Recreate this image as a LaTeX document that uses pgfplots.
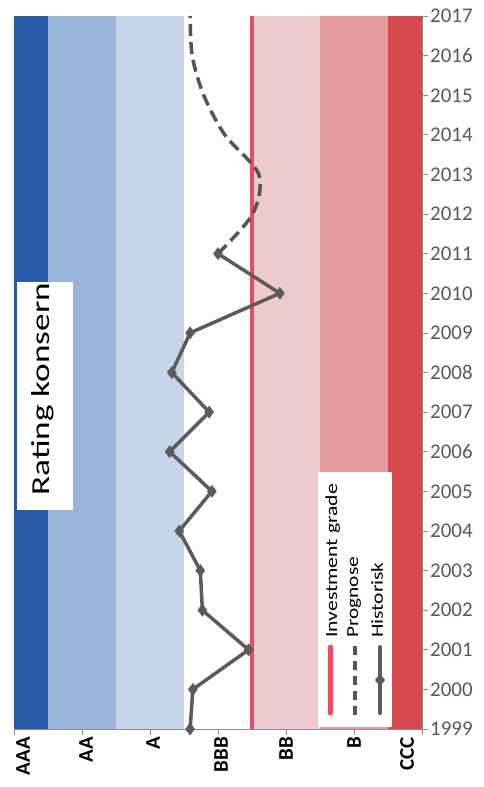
\documentclass[border=0pt]{standalone}
\usepackage{fontspec}
\setmainfont{Carlito}
\usepackage{graphicx}
\usepackage{pgfplots}
\usepackage{pgfplotstable}
\pgfplotsset{compat=1.18}

% rating bands (AAA ... CCC) and series colours
\definecolor{bandAAA}{HTML}{2A5BA6}
\definecolor{bandAA}{HTML}{9BB5DA}
\definecolor{bandA}{HTML}{C6D6EA}
\definecolor{bandBB}{HTML}{EDCBCC}
\definecolor{bandB}{HTML}{E49C9E}
\definecolor{bandCCC}{HTML}{D6494C}
\definecolor{invgrade}{HTML}{EE4A5F}
\definecolor{histline}{HTML}{5C5A5B}
\definecolor{progline}{HTML}{555555}
\definecolor{axisgray}{HTML}{8C8C8C}
\definecolor{labelgray}{HTML}{595959}

% rating scale: AAA = 0, AA = 1, A = 2, BBB = 3, BB = 4, B = 5, CCC = 6
\pgfplotstableread{
year rating
1999 2.59
2000 2.63
2001 3.45
2002 2.77
2003 2.74
2004 2.43
2005 2.91
2006 2.29
2007 2.87
2008 2.32
2009 2.59
2010 3.91
2011 3.00
}\historisk

\pgfplotstableread{
year rating
2011 3.00
2012 3.51
2013 3.60
2014 3.10
2015 2.79
2016 2.62
2017 2.59
}\prognose

\begin{document}
\begin{tikzpicture}
\begin{axis}[
  scale only axis,
  width=408bp, height=713bp,
  xmin=0, xmax=6, ymin=1999, ymax=2017,
  axis on top,
  axis x line*=bottom, axis y line*=right,
  axis line style={axisgray, line width=0.8bp},
  tick align=outside,
  major tick length=6bp,
  every tick/.style={axisgray, line width=0.8bp},
  xtick={0,1,2,3,4,5,6},
  xticklabels={{\raisebox{-9bp}[\height][\depth]{AAA}},{\raisebox{-4bp}[\height][\depth]{AA}},{\raisebox{-3bp}[\height][\depth]{A}},{\raisebox{-3bp}[\height][\depth]{BBB}},BB,B,{\raisebox{15bp}[\height][\depth]{CCC}}},
  x tick label style={rotate=90, anchor=east, inner sep=2bp,
    font=\fontsize{21}{21}\selectfont\bfseries},
  ytick={1999,...,2017},
  y tick label style={font=\fontsize{21}{21}\selectfont, text=labelgray,
    /pgf/number format/1000 sep={}, inner sep=2bp},
  /pgf/number format/assume math mode=true,
]
% rating bands
\addplot[fill=bandAAA, draw=none] coordinates {(0,1999) (0.5,1999) (0.5,2017) (0,2017)} -- cycle;
\addplot[fill=bandAA, draw=none] coordinates {(0.5,1999) (1.5,1999) (1.5,2017) (0.5,2017)} -- cycle;
\addplot[fill=bandA, draw=none] coordinates {(1.5,1999) (2.5,1999) (2.5,2017) (1.5,2017)} -- cycle;
\addplot[fill=bandBB, draw=none] coordinates {(3.5,1999) (4.5,1999) (4.5,2017) (3.5,2017)} -- cycle;
\addplot[fill=bandB, draw=none] coordinates {(4.5,1999) (5.5,1999) (5.5,2017) (4.5,2017)} -- cycle;
\addplot[fill=bandCCC, draw=none] coordinates {(5.5,1999) (6,1999) (6,2017) (5.5,2017)} -- cycle;

% investment grade boundary between BBB and BB
\addplot[invgrade, line width=3.5bp] coordinates {(3.5,1999) (3.5,2017)};

% forecast
\addplot[progline, line width=3.5bp, dash pattern=on 12bp off 6bp, smooth, tension=0.5]
  table[x=rating, y=year] {\prognose};

% history
\addplot[histline, line width=3.5bp, mark=diamond*, mark size=6bp,
  mark options={solid, fill=histline, line width=0.5bp}]
  table[x=rating, y=year] {\historisk};

% title box
\fill[white] (axis cs:0.044,2004.53) rectangle (axis cs:0.868,2010.285);
\node[rotate=90, anchor=base east, inner sep=0pt, font=\fontsize{26}{26}\selectfont]
  at (axis cs:0.529,2010.26) {\scalebox{1.36}[1]{Rating konsern}};

% legend, set upright along the year axis
\fill[white] (axis cs:4.471,1999.05) rectangle (axis cs:5.559,2005.49);
\draw[invgrade, line width=5bp, line cap=round] (axis cs:4.654,1999.40) -- (axis cs:4.654,2001.07);
\draw[progline, line width=4.5bp, dash pattern=on 9bp off 6bp] (axis cs:5.015,1999.35) -- (axis cs:5.015,2001.12);
\draw[histline, line width=4bp, line cap=round] (axis cs:5.382,1999.40) -- (axis cs:5.382,2001.07);
\fill[histline] (axis cs:5.382,2000.40) -- (axis cs:5.456,2000.237) -- (axis cs:5.382,2000.07) -- (axis cs:5.308,2000.237) -- cycle;
\begin{scope}[every node/.style={rotate=90, anchor=base west, inner sep=0pt,
    font=\fontsize{17}{17}\selectfont}]
  \node at (axis cs:4.75,2001.297) {\scalebox{1.28}[1]{Investment grade}};
  \node at (axis cs:5.059,2001.297) {\scalebox{1.26}[1]{Prognose}};
  \node at (axis cs:5.426,2001.297) {\scalebox{1.27}[1]{Historisk}};
\end{scope}
\end{axis}
\path[use as bounding box] (-14bp,-58bp) rectangle (470bp,729bp);
\end{tikzpicture}
\end{document}
